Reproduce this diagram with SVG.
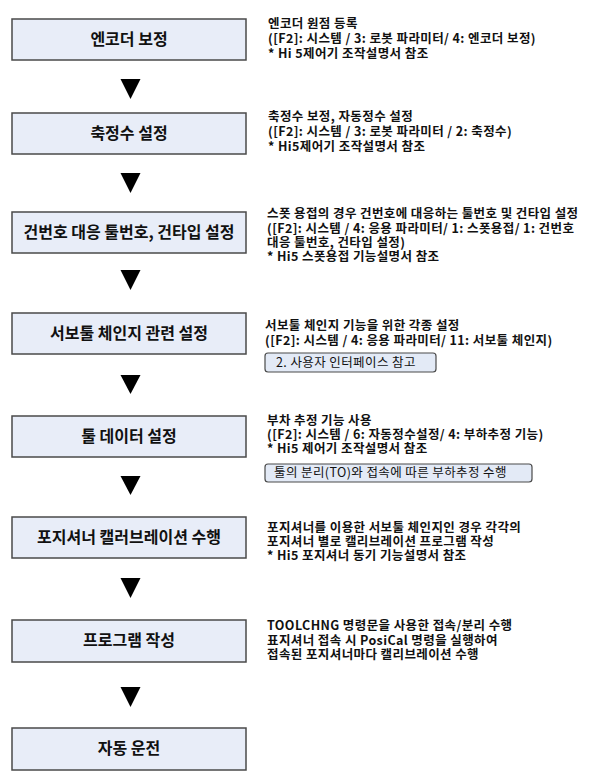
<svg xmlns="http://www.w3.org/2000/svg" width="589" height="784" viewBox="0 0 589 784">
<style>
.box{fill:#e8edf8;stroke:#4a4a4a;stroke-width:1.5}
.lbl{font-family:"Noto Sans CJK KR","Noto Sans",sans-serif;font-size:16px;font-weight:bold;fill:#111;text-anchor:middle}
.note{font-family:"Noto Sans CJK KR","Noto Sans",sans-serif;font-size:12.5px;letter-spacing:0.4px;font-weight:bold;fill:#111}
.tag{fill:#e3eaf6;stroke:#4a4a4a;stroke-width:1.2}
.tagt{font-family:"Noto Sans CJK KR","Noto Sans",sans-serif;font-size:12.5px;letter-spacing:0.4px;fill:#111}
.arr{fill:#000}
</style>
<rect width="589" height="784" fill="#fff"/>
<g id="connectors">
<polygon class="arr" points="120.5,79 140.5,79 130.5,99"/>
<polygon class="arr" points="120.5,173 140.5,173 130.5,193"/>
<polygon class="arr" points="120.5,270 140.5,270 130.5,290"/>
<polygon class="arr" points="120.5,375 140.5,375 130.5,394"/>
<polygon class="arr" points="120.5,476 140.5,476 130.5,495"/>
<polygon class="arr" points="120.5,578 140.5,578 130.5,598"/>
<polygon class="arr" points="120.5,687 140.5,687 130.5,707"/>
</g>
<g id="n1">
<rect class="box" x="12" y="19" width="234" height="41"/>
<text class="lbl" x="129" y="45">엔코더 보정</text>
<text class="note"><tspan x="268" y="28">엔코더 원점 등록</tspan><tspan x="268" y="43">([F2]: 시스템 / 3: 로봇 파라미터/ 4: 엔코더 보정)</tspan><tspan x="268" y="58">* Hi 5제어기 조작설명서 참조</tspan></text>
</g>
<g id="n2">
<rect class="box" x="12" y="113" width="234" height="41"/>
<text class="lbl" x="129" y="139">축정수 설정</text>
<text class="note"><tspan x="268" y="121">축정수 보정, 자동정수 설정</tspan><tspan x="268" y="136">([F2]: 시스템 / 3: 로봇 파라미터 / 2: 축정수)</tspan><tspan x="268" y="151">* Hi5제어기 조작설명서 참조</tspan></text>
</g>
<g id="n3">
<rect class="box" x="12" y="212" width="234" height="41"/>
<text class="lbl" x="129" y="238">건번호 대응 툴번호, 건타입 설정</text>
<text class="note"><tspan x="267" y="218">스폿 용접의 경우 건번호에 대응하는 툴번호 및 건타입 설정</tspan><tspan x="267" y="233">([F2]: 시스템 / 4: 응용 파라미터/ 1: 스폿용접/ 1: 건번호</tspan><tspan x="267" y="247">대응 툴번호, 건타입 설정)</tspan><tspan x="267" y="261">* Hi5 스폿용접 기능설명서 참조</tspan></text>
</g>
<g id="n4">
<rect class="box" x="12" y="313" width="234" height="41"/>
<text class="lbl" x="129" y="339">서보툴 체인지 관련 설정</text>
<text class="note"><tspan x="265" y="330">서보툴 체인지 기능을 위한 각종 설정</tspan><tspan x="265" y="345">([F2]: 시스템 / 4: 응용 파라미터/ 11: 서보툴 체인지)</tspan></text>
<rect class="tag" x="265" y="353" width="171" height="19" rx="3"/>
<text class="tagt" x="276" y="367">2. 사용자 인터페이스 참고</text>
</g>
<g id="n5">
<rect class="box" x="12" y="416" width="234" height="41"/>
<text class="lbl" x="129" y="442">툴 데이터 설정</text>
<text class="note"><tspan x="267" y="425">부차 추정 기능 사용</tspan><tspan x="267" y="439">([F2]: 시스템 / 6: 자동정수설정/ 4: 부하추정 기능)</tspan><tspan x="267" y="453">* Hi5 제어기 조작설명서 참조</tspan></text>
<rect class="tag" x="265" y="464" width="267" height="18" rx="3"/>
<text class="tagt" x="274" y="477">툴의 분리(TO)와 접속에 따른 부하추정 수행</text>
</g>
<g id="n6">
<rect class="box" x="12" y="517" width="234" height="41"/>
<text class="lbl" x="129" y="543">포지셔너 캘러브레이션 수행</text>
<text class="note"><tspan x="267" y="532">포지셔너를 이용한 서보툴 체인지인 경우 각각의</tspan><tspan x="267" y="546">포지셔너 별로 캘리브레이션 프로그램 작성</tspan><tspan x="267" y="560">* Hi5 포지셔너 동기 기능설명서 참조</tspan></text>
</g>
<g id="n7">
<rect class="box" x="12" y="620" width="234" height="42"/>
<text class="lbl" x="129" y="646">프로그램 작성</text>
<text class="note"><tspan x="267" y="630">TOOLCHNG 명령문을 사용한 접속/분리 수행</tspan><tspan x="267" y="645">표지셔너 접속 시 PosiCal 명령을 실행하여</tspan><tspan x="267" y="659">접속된 포지셔너마다 캘리브레이션 수행</tspan></text>
</g>
<g id="n8">
<rect class="box" x="12" y="728" width="234" height="42"/>
<text class="lbl" x="129" y="754">자동 운전</text>
</g>
</svg>
